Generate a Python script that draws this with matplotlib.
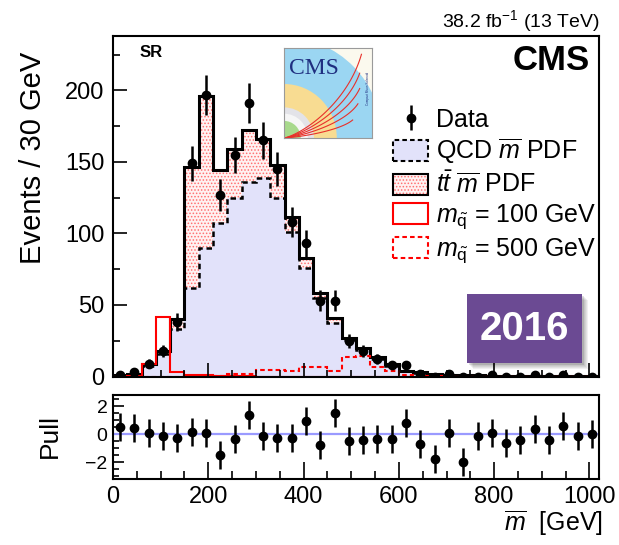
import numpy as np
import matplotlib
matplotlib.use("Agg")
import matplotlib.pyplot as plt
from matplotlib.patches import Patch, Rectangle, Wedge
from matplotlib.legend_handler import HandlerTuple
from matplotlib.ticker import MultipleLocator

plt.rcParams['font.family'] = ['Liberation Sans', 'DejaVu Sans']
plt.rcParams['mathtext.fontset'] = 'custom'
plt.rcParams['mathtext.rm'] = 'Liberation Sans'
plt.rcParams['mathtext.it'] = 'Liberation Sans:italic'
plt.rcParams['mathtext.bf'] = 'Liberation Sans:bold'
plt.rcParams['hatch.linewidth'] = 0.7

# 30 GeV bins, 0 - 1020 GeV
edges = np.arange(0, 1021, 30)
centers = 0.5 * (edges[:-1] + edges[1:])

qcd = [0.5, 1.5, 7.0, 15.5, 33, 62, 90, 107, 125, 136, 139, 125, 101, 75.5, 55, 37.5, 25.5,
       18.5, 12.5, 7.5, 3.6, 2.7, 1.4, 1.0, 0.8, 0.6, 0.5, 0.4, 0.35, 0.3, 0.25, 0.2, 0.2, 0.15]
ttbar = [0.2, 0.3, 1.6, 2.0, 7.0, 84.5, 106, 37, 34, 36, 27, 23, 10.5, 7.5, 3.5, 3.5, 1.5,
         1.5, 0.9, 1.1, 0.4, 0.3, 0.2, 0.1, 0.1, 0.1, 0.05, 0.05, 0.05, 0.05, 0.05, 0.05, 0.02, 0.03]
sig100 = [0, 0.3, 8.6, 41.6, 3.0, 0.7, 0.7, 0.4, 0.3, 0.1, 0, 0, 0, 0, 0, 0, 0,
          0, 0, 0, 0, 0, 0, 0, 0, 0, 0, 0, 0, 0, 0, 0, 0, 0]
sig500 = [0, 0, 0, 0, 0, 0.2, 0.3, 0.5, 1.6, 1.6, 4.7, 4.5, 3.5, 6.5, 6.5, 3.5, 13.5,
          14.5, 6.5, 3.5, 0.7, 0.3, 0.2, 0, 0, 0, 0, 0, 0, 0, 0, 0, 0, 0]
data = [1, 3, 9, 18, 38, 149, 197, 127, 155, 191, 165, 145, 108, 93, 53, 53, 25,
        18, 12, 8, 8, 2, 0, 2, 0, 0, 1, 0, 0, 1, 0, 1, 0, 0]
pull = [0.54, 0.47, 0.11, -0.10, -0.29, 0.19, 0.07, -1.48, -0.34, 1.36, -0.10, -0.29, -0.29,
        0.97, -0.74, 1.50, -0.50, -0.41, -0.36, -0.31, 0.83, -0.71, -1.76, 0.12, -1.95,
        -0.12, 0.07, -0.60, -0.41, 0.40, -0.41, 0.62, -0.10, 0.00]

qcd_face = '#e2e2fa'
tt_face = '#fff2f2'
tt_dots = '#ff7070'
dash = (0, (2.2, 1.5))

W, H = 619, 545
fig = plt.figure(figsize=(W / 100, H / 100), dpi=100)


def px_axes(x0, y0, x1, y1):
    return fig.add_axes([x0 / W, 1 - y1 / H, (x1 - x0) / W, (y1 - y0) / H])


ax = px_axes(113, 36, 599, 376.5)
ax2 = px_axes(113, 395, 599, 479)

total = np.array(qcd) + np.array(ttbar)
ax.stairs(total, edges, fill=True, facecolor=tt_face, edgecolor=tt_dots, hatch='.....', linewidth=0)
ax.stairs(qcd, edges, fill=True, facecolor=qcd_face, linewidth=0)
ax.stairs(qcd, edges, color='black', linestyle=dash, linewidth=1.8)
ax.stairs(total, edges, color='black', linewidth=2.2)
ax.stairs(sig100, edges, color='red', linewidth=1.5)
ax.stairs(sig500, edges, color='red', linestyle=dash, linewidth=1.5)

d = np.array(data, dtype=float)
err_lo = np.sqrt(d)
err_hi = np.where(d > 0, np.sqrt(d), 1.84)
eb = ax.errorbar(centers, d, yerr=[err_lo, err_hi], fmt='o', color='black', ms=6,
                 elinewidth=1.8, capsize=0)

ax.set_xlim(0, 1020)
ax.set_ylim(0, 238)
for a in (ax, ax2):
    for s in a.spines.values():
        s.set_linewidth(1.5)
    a.xaxis.set_major_locator(MultipleLocator(200))
    a.xaxis.set_minor_locator(MultipleLocator(50))
    a.tick_params(which='both', direction='in', top=False, right=False, width=1.2)
ax.yaxis.set_major_locator(MultipleLocator(50))
ax.yaxis.set_minor_locator(MultipleLocator(25))
ax.tick_params(which='major', length=10, labelsize=17, pad=6)
ax.tick_params(which='minor', length=5)
ax.tick_params(axis='x', labelbottom=False)

# pull panel
ax2.axhline(0, color='#9a9aff', linewidth=1.6)
ax2.errorbar(centers, pull, yerr=1.0, fmt='o', color='black', ms=6, elinewidth=1.8, capsize=0)
ax2.set_xlim(0, 1020)
ax2.set_ylim(-3.2, 2.8)
ax2.yaxis.set_major_locator(MultipleLocator(2))
ax2.yaxis.set_minor_locator(MultipleLocator(0.5))
ax2.tick_params(axis='x', which='major', length=12, labelsize=17, pad=5)
ax2.tick_params(axis='x', which='minor', length=6)
ax2.tick_params(axis='y', which='major', length=8, labelsize=14, pad=4)
ax2.tick_params(axis='y', which='minor', length=4)

# labels
fig.text(33 / W, 1 - 158 / H, 'Events / 30 GeV', rotation=90, ha='center', va='center', fontsize=21)
fig.text(50 / W, 1 - 436 / H, 'Pull', rotation=90, ha='center', va='center', fontsize=19)
fig.text(603 / W, 1 - 531 / H, r'$\overline{m}$  [GeV]', ha='right', va='baseline', fontsize=18)
fig.text(600 / W, 1 - 27 / H, r'38.2 fb$^{-1}$ (13 TeV)', ha='right', va='baseline', fontsize=14)
fig.text(590 / W, 1 - 70 / H, 'CMS', ha='right', va='baseline', fontsize=25, fontweight='bold')
fig.text(140 / W, 1 - 57 / H, 'SR', ha='left', va='baseline', fontsize=12, fontweight='bold')

# legend
h_qcd = Patch(facecolor=qcd_face, edgecolor='black', linestyle=dash, linewidth=1.5)
h_tt = (Patch(facecolor=tt_face, edgecolor=tt_dots, hatch='.....', linewidth=0),
        Patch(facecolor='none', edgecolor='black', linewidth=1.5))
h_s100 = Patch(facecolor='white', edgecolor='red', linewidth=1.5)
h_s500 = Patch(facecolor='white', edgecolor='red', linestyle=dash, linewidth=1.5)
labels = ['Data', r'QCD $\overline{m}$ PDF', r'$t\bar{t}$ $\overline{m}$ PDF',
          r'$m_{\tilde{\mathrm{q}}}$ = 100 GeV', r'$m_{\tilde{\mathrm{q}}}$ = 500 GeV']
ax.legend([eb, h_qcd, h_tt, h_s100, h_s500], labels, loc='upper left',
          bbox_to_anchor=(393 / W, 1 - 108 / H), bbox_transform=fig.transFigure,
          frameon=False, fontsize=18, handlelength=1.4, handleheight=0.9,
          handletextpad=0.3, labelspacing=0.2, borderpad=0, borderaxespad=0,
          handler_map={tuple: HandlerTuple(ndivide=1, pad=0)})

# 2016 badge with a soft shadow
for k in range(6):
    off = 1.5 + k * 0.8
    fig.patches.append(Rectangle(((467 + off) / W, 1 - (363 + off) / H), 115 / W, 69 / H,
                                 transform=fig.transFigure, facecolor='black',
                                 alpha=0.06, linewidth=0, zorder=5))
fig.patches.append(Rectangle((467 / W, 1 - 363 / H), 115 / W, 69 / H, transform=fig.transFigure,
                             facecolor='#6b4a93', linewidth=0, zorder=6))
fig.text(524.5 / W, 1 - 328.5 / H, '2016', ha='center', va='center', fontsize=29,
         fontweight='bold', color='white', zorder=7)

# CMS logo (drawn approximation)
logo = px_axes(284, 48, 372, 138)
logo.set_xlim(0, 1)
logo.set_ylim(0, 1)
logo.set_facecolor('#fbf9ee')
logo.set_xticks([])
logo.set_yticks([])
for s in logo.spines.values():
    s.set_color('#9a9a9a')
    s.set_linewidth(0.8)
for r, c in [(1.12, '#9bd6f2'), (0.6, '#f8dc92'), (0.34, '#e3e3e8'), (0.27, '#f6f6f6'), (0.19, '#a8d98c')]:
    logo.add_patch(Wedge((0, 0), r, 0, 90, facecolor=c, linewidth=0))
t = np.linspace(0, 1, 50)
for xe, ye in [(0.88, 0.93), (0.86, 0.72), (0.86, 0.55), (0.84, 0.38), (0.78, 0.2)]:
    logo.plot(xe * (2 * t - t ** 2) ** 0.6 * t ** 0.4, ye * t ** 1.3, color='#e8302a', lw=0.8)
logo.text(0.06, 0.66, 'CMS', family='Liberation Serif', color='#1f2f80', fontsize=17, va='bottom')
logo.text(0.95, 0.55, 'Compact Muon Solenoid', rotation=90, fontsize=2.2, color='#1f2f80',
          ha='center', va='center')

fig.savefig('out.png', dpi=100)
